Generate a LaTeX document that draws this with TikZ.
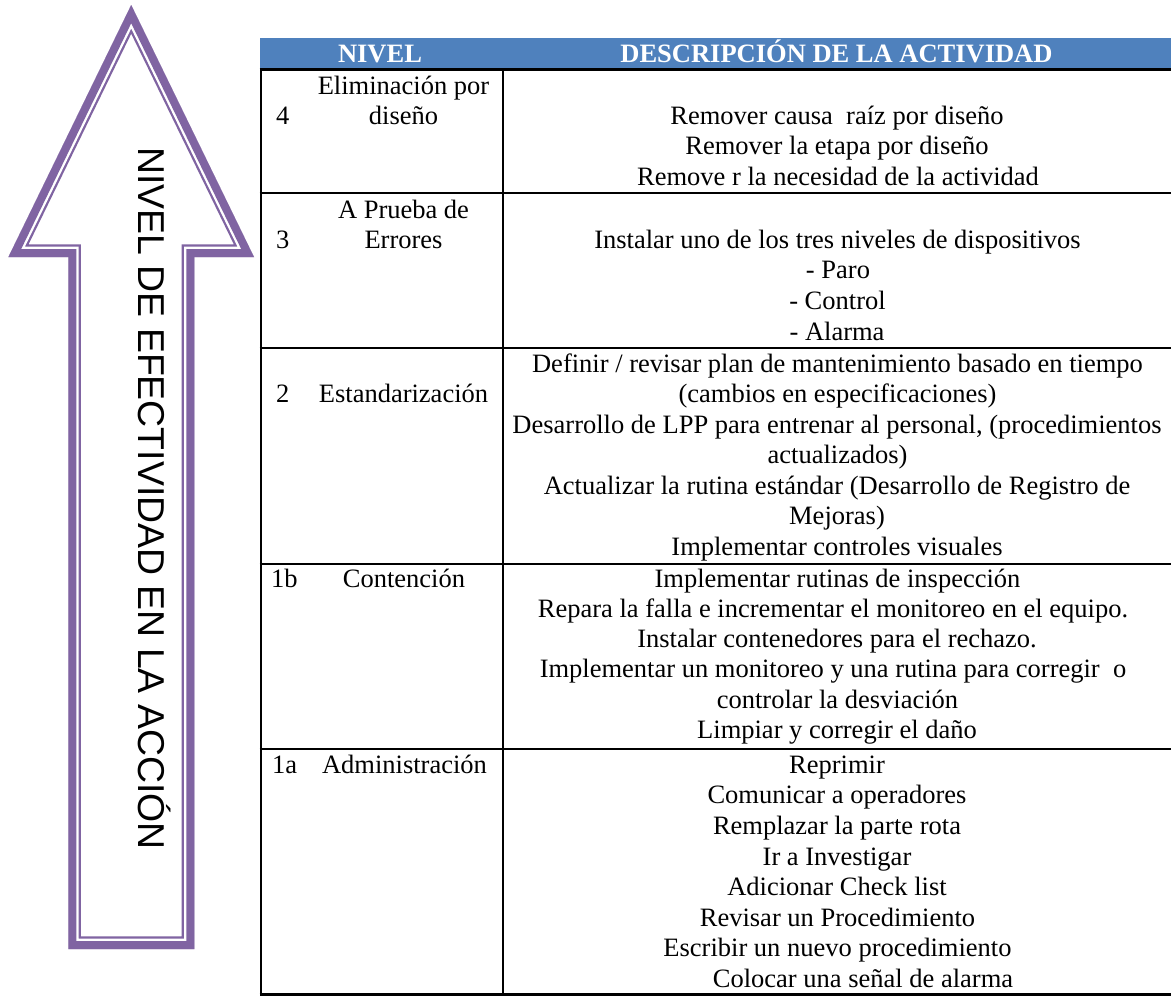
\documentclass[tikz,border=0pt]{standalone}
\usepackage{fontspec}
\setmainfont{Liberation Serif}
\newfontfamily\arrowfont{Liberation Sans}
\definecolor{arrowpurple}{HTML}{8064A2}
\definecolor{headblue}{HTML}{4F81BD}
\tikzset{
  cell/.style={anchor=base, inner sep=0pt, font=\fontsize{26.5}{30.5}\selectfont},
  cellw/.style={cell, anchor=base west},
  headtxt/.style={cell, text=white, font=\fontsize{26.5}{30.5}\selectfont\bfseries},
  rule/.style={line width=2.3pt, black},
  arrowtxt/.style={anchor=base, inner sep=0pt, font=\arrowfont\fontsize{37.4}{40}\selectfont}
}
\begin{document}
\begin{tikzpicture}[x=1pt,y=-1pt]
\useasboundingbox (0,0) rectangle (1171,996);
\fill[white] (0,0) rectangle (1171,996);

% ---- upward arrow with a thick-thin purple outline ----
\coordinate (tip) at (131.2,5);
\coordinate (hr) at (254,257);
\coordinate (sr) at (194.3,257);
\coordinate (br) at (194.3,949);
\coordinate (bl) at (68.3,949);
\coordinate (sl) at (68.3,257);
\coordinate (hl) at (8.4,257);
\begin{scope}
  \clip (tip) -- (hr) -- (sr) -- (br) -- (bl) -- (sl) -- (hl) -- cycle;
  \draw[arrowpurple, line width=25.2pt] (tip) -- (hr) -- (sr) -- (br) -- (bl) -- (sl) -- (hl) -- cycle;
  \draw[white, line width=20.6pt] (tip) -- (hr) -- (sr) -- (br) -- (bl) -- (sl) -- (hl) -- cycle;
  \draw[arrowpurple, line width=16pt] (tip) -- (hr) -- (sr) -- (br) -- (bl) -- (sl) -- (hl) -- cycle;
\end{scope}
\node[arrowtxt, rotate=-90] (arrowlabel) at (138,498.5) {NIVEL DE EFECTIVIDAD EN LA ACCIÓN};

% ---- table header ----
\fill[headblue] (259.5,38.3) rectangle (1171,68.6);
\node[headtxt] (hnivel) at (380,62) {NIVEL};
\node[headtxt] (hdesc) at (836.5,62) {DESCRIPCIÓN DE LA ACTIVIDAD};

% ---- table rules ----
\draw[rule] (260.7,68.4) -- (260.7,995.6);
\draw[rule] (502.7,68.4) -- (502.7,995.6);
\foreach \yy in {69.5,193,347.8,563.8,748.8,994.5}
  \draw[rule] (259.6,\yy) -- (1171,\yy);

% ---- level 4 ----
\node[cellw] (n4) at (276,124) {4};
\node[cell] (l4a) at (403.5,94) {Eliminación por};
\node[cell] (l4b) at (403.5,124) {diseño};
\node[cell] (d4a) at (837,124) {Remover causa\ \ raíz por diseño};
\node[cell] (d4b) at (837,154.5) {Remover la etapa por diseño};
\node[cell] (d4c) at (838,185) {Remove r la necesidad de la actividad};

% ---- level 3 ----
\node[cell] (l3a) at (403.5,218) {A Prueba de};
\node[cellw] (n3) at (276,248.3) {3};
\node[cell] (l3b) at (403.5,248.3) {Errores};
\node[cell] (d3a) at (837.5,248.3) {Instalar uno de los tres niveles de dispositivos};
\node[cell] (d3b) at (838,278.6) {- Paro};
\node[cell] (d3c) at (837.5,309.3) {- Control};
\node[cell] (d3d) at (837,340) {- Alarma};

% ---- level 2 ----
\node[cellw] (n2) at (276,402) {2};
\node[cell] (l2) at (403.5,402) {Estandarización};
\node[cell] (d2a) at (837.5,372.7) {Definir / revisar plan de mantenimiento basado en tiempo};
\node[cell] (d2b) at (837.5,402.7) {(cambios en especificaciones)};
\node[cell] (d2c) at (837,433.3) {Desarrollo de LPP para entrenar al personal, (procedimientos};
\node[cell] (d2d) at (837.5,463.6) {actualizados)};
\node[cell] (d2e) at (837,494.3) {Actualizar la rutina estándar (Desarrollo de Registro de};
\node[cell] (d2f) at (837,524.8) {Mejoras)};
\node[cell] (d2g) at (837,555.2) {Implementar controles visuales};

% ---- level 1b ----
\node[cellw] (n1b) at (271,587) {1b};
\node[cell] (l1b) at (404,587) {Contención};
\node[cell] (d1ba) at (837.5,587) {Implementar rutinas de inspección};
\node[cell] (d1bb) at (833,617) {Repara la falla e incrementar el monitoreo en el equipo.};
\node[cell] (d1bc) at (837,647.3) {Instalar contenedores para el rechazo.};
\node[cell] (d1bd) at (833,677.5) {Implementar un monitoreo y una rutina para corregir\ \ o};
\node[cell] (d1be) at (837.5,708) {controlar la desviación};
\node[cell] (d1bf) at (837,738.4) {Limpiar y corregir el daño};

% ---- level 1a ----
\node[cellw] (n1a) at (272,773.3) {1a};
\node[cell] (l1a) at (404.5,773.3) {Administración};
\node[cell] (d1aa) at (837,773.3) {Reprimir};
\node[cell] (d1ab) at (837,803.9) {Comunicar a operadores};
\node[cell] (d1ac) at (837,834.5) {Remplazar la parte rota};
\node[cell] (d1ad) at (837,865) {Ir a Investigar};
\node[cell] (d1ae) at (837,895.6) {Adicionar Check list};
\node[cell] (d1af) at (837.5,926.2) {Revisar un Procedimiento};
\node[cell] (d1ag) at (837.5,956.7) {Escribir un nuevo procedimiento};
\node[cell] (d1ah) at (863,987.3) {Colocar una señal de alarma};
\end{tikzpicture}
\end{document}
